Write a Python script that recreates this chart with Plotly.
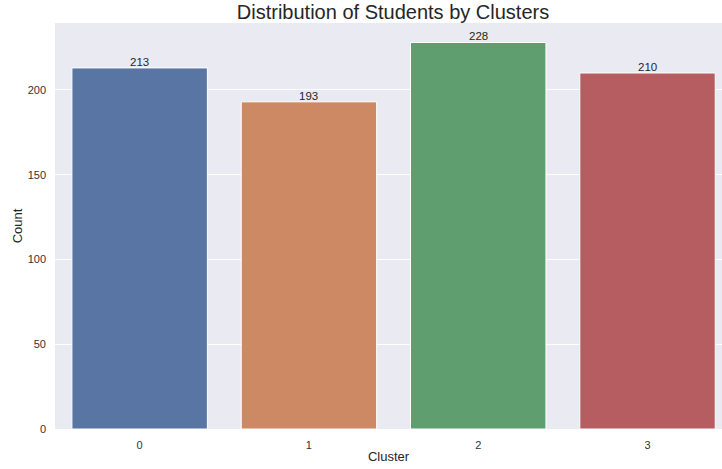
import plotly.graph_objects as go

# Student counts per cluster
clusters = ["0", "1", "2", "3"]
counts = [213, 193, 228, 210]
bar_colors = ["#5975A4", "#CC8963", "#5F9E6E", "#B55D60"]
y_ticks = [0, 50, 100, 150, 200]

text_color = "#262626"
font_family = "Liberation Sans, Arial, sans-serif"

fig = go.Figure(
    go.Bar(
        x=list(range(len(clusters))),
        y=counts,
        width=0.8,
        marker=dict(color=bar_colors, line=dict(color="white", width=1)),
        showlegend=False,
        hoverinfo="skip",
    )
)

# Value labels on top of each bar
for i, c in enumerate(counts):
    fig.add_annotation(
        x=i, y=c, text=str(c), showarrow=False,
        yanchor="bottom", yshift=-2,
        font=dict(size=11.5, color=text_color, family=font_family),
    )

fig.update_layout(
    width=722, height=469,
    margin=dict(l=55, r=0, t=23, b=40),
    paper_bgcolor="white",
    plot_bgcolor="#EAEAF2",
    font=dict(family=font_family, color=text_color),
    title=dict(
        text="Distribution of Students by Clusters",
        x=393 / 722, xref="container", xanchor="center",
        y=1 - 12 / 469, yref="container", yanchor="middle",
        font=dict(size=20, color=text_color),
    ),
    bargap=0.2,
)

fig.update_xaxes(
    range=[-0.5, 3.44],
    tickmode="array",
    tickvals=list(range(len(clusters))),
    ticktext=clusters,
    showgrid=False, zeroline=False, showline=False,
    ticks="", ticklabelstandoff=8,
    tickfont=dict(size=11, color="#333333"),
    title=dict(text="Cluster", font=dict(size=13, color=text_color), standoff=1),
)

fig.update_yaxes(
    range=[0, 239.5],
    tickmode="array",
    tickvals=y_ticks,
    showgrid=True, gridcolor="white", gridwidth=1,
    zeroline=False, showline=False,
    ticks="", ticklabelstandoff=8,
    tickfont=dict(size=11, color="#333333"),
    title=dict(text="Count", font=dict(size=13, color=text_color), standoff=2),
)

fig.write_html("out.html")
